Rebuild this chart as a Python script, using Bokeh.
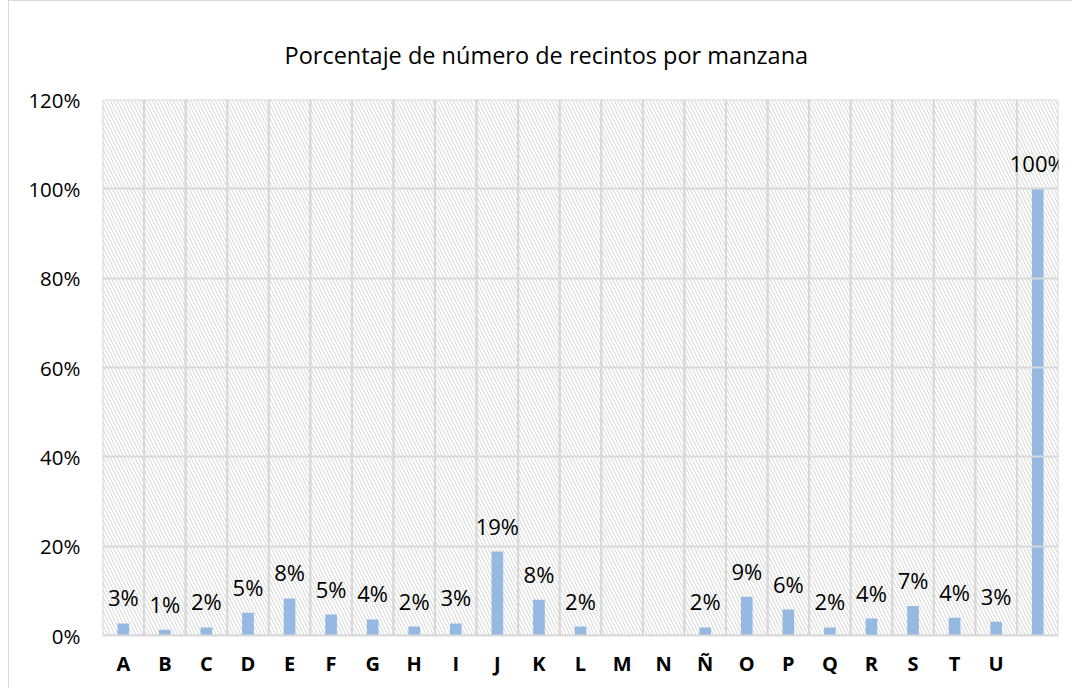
from bokeh.plotting import figure
from bokeh.models import ColumnDataSource, FactorRange, Range1d, NumeralTickFormatter, FixedTicker
from bokeh.core.properties import value
from bokeh.embed import file_html
from bokeh.resources import INLINE

categories = ["A", "B", "C", "D", "E", "F", "G", "H", "I", "J", "K", "L",
              "M", "N", "Ñ", "O", "P", "Q", "R", "S", "T", "U", " "]
percentages = [0.027, 0.013, 0.018, 0.051, 0.083, 0.047, 0.036, 0.020, 0.027,
               0.188, 0.080, 0.020, 0.0, 0.0, 0.018, 0.087, 0.058, 0.018,
               0.038, 0.066, 0.040, 0.031, 1.0]
y_ticks = [0.0, 0.2, 0.4, 0.6, 0.8, 1.0, 1.2]
title_text = "Porcentaje de número de recintos por manzana"

labels = [f"{round(v * 100):d}%" if v > 0 else "" for v in percentages]

src = ColumnDataSource(data=dict(cat=categories, val=percentages, lab=labels,
                                 full=[y_ticks[-1]] * len(categories)))

FONT = "Open Sans"

p = figure(x_range=FactorRange(*categories, range_padding=0),
           y_range=Range1d(0, 1.2),
           width=1064, height=688,
           output_backend="svg", toolbar_location=None,
           min_border_left=93, min_border_right=15,
           min_border_top=98, min_border_bottom=54,
           title=title_text)

p.styles = {"margin-left": "8px", "margin-top": "0px",
            "border-left": "1px solid #d9d9d9", "border-top": "1px solid #d9d9d9"}

p.title.text_font = FONT
p.title.text_font_size = "23.5px"
p.title.text_font_style = "normal"
p.title.text_color = "#000000"
p.title.align = "left"
p.title.offset = 182
p.title.standoff = 57

p.outline_line_color = None
p.background_fill_color = "white"
p.border_fill_color = "white"

# hatched plot-area background, one cell per category (outlines give the vertical grid)
p.vbar(x="cat", top="full", bottom=0, width=1.0, source=src,
       fill_alpha=0, hatch_pattern="\\", hatch_color="#d4d4d4",
       hatch_scale=7, hatch_weight=1,
       line_color="#d9d9d9", line_width=2)

p.xgrid.grid_line_color = None
p.ygrid.grid_line_color = "#d9d9d9"
p.ygrid.grid_line_width = 2
p.ygrid.level = "glyph"

p.vbar(x="cat", top="val", bottom=0, width=0.28, source=src,
       fill_color="#95b9e1", line_color=None)

p.text(x="cat", y="val", text="lab", source=src,
       text_align="center", text_baseline="alphabetic", y_offset=-26,
       text_font=value(FONT), text_font_size="22px", text_color="#000000")

p.yaxis.ticker = FixedTicker(ticks=y_ticks)
p.yaxis.formatter = NumeralTickFormatter(format="0%")
p.yaxis.axis_line_color = None
p.yaxis.major_tick_line_color = None
p.yaxis.minor_tick_line_color = None
p.yaxis.major_label_standoff = 16
p.yaxis.major_label_text_font = FONT
p.yaxis.major_label_text_font_size = "20.5px"
p.yaxis.major_label_text_color = "#000000"

p.xaxis.axis_line_color = "#d9d9d9"
p.xaxis.axis_line_width = 2
p.xaxis.major_tick_line_color = None
p.xaxis.minor_tick_line_color = None
p.xaxis.major_label_standoff = 8
p.xaxis.major_label_text_font = FONT
p.xaxis.major_label_text_font_style = "bold"
p.xaxis.major_label_text_font_size = "20px"
p.xaxis.major_label_text_color = "#000000"

open("out.html", "w").write(file_html(p, INLINE))
